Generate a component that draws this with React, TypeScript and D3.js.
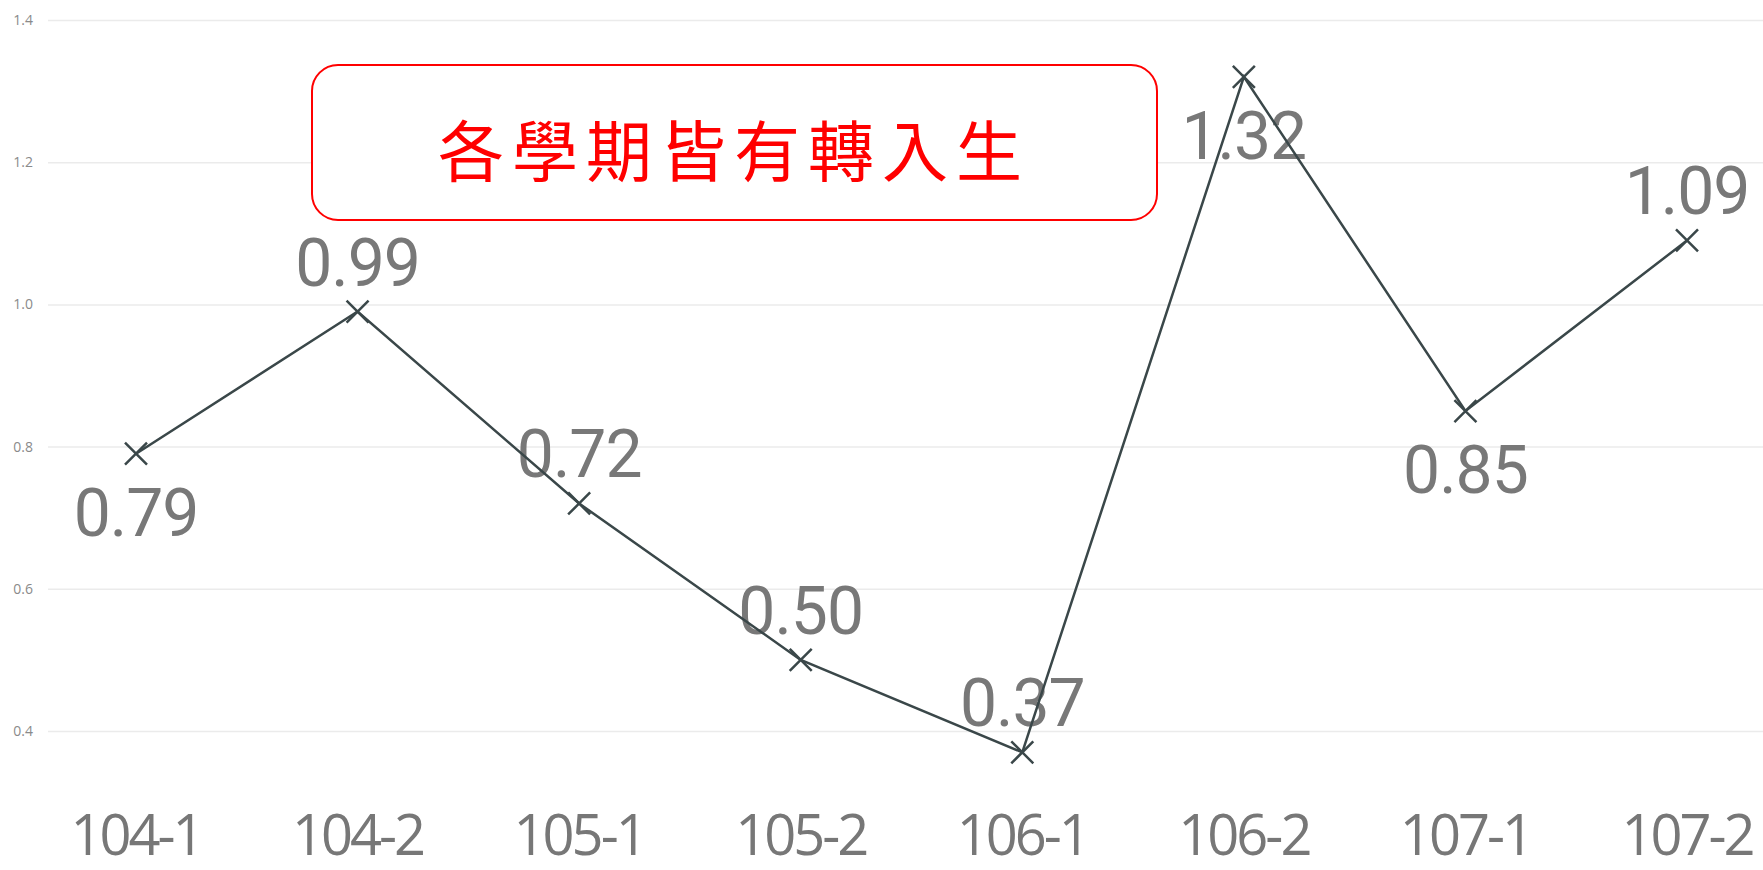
import React, { useEffect, useRef } from 'react';
import { axisLeft, line, scaleLinear, scalePoint, select } from 'd3';

const terms = ['104-1', '104-2', '105-1', '105-2', '106-1', '106-2', '107-1', '107-2'];
const rates = [0.79, 0.99, 0.72, 0.5, 0.37, 1.32, 0.85, 1.09];
const labelSide = ['below', 'above', 'above', 'above', 'above', 'below', 'below', 'above'];
const yTicks = [0.4, 0.6, 0.8, 1.0, 1.2, 1.4];
const note = '各學期皆有轉入生';

const App = () => {
  const chartRef = useRef<SVGSVGElement | null>(null);

  useEffect(() => {
    const svg = select(chartRef.current);
    const width = 1763;
    const height = 870;

    svg.selectAll('*').remove();
    svg.attr('width', width).attr('height', height);

    const x = scalePoint<string>().domain(terms).range([136, 1687]);
    const y = scaleLinear().domain([0.4, 1.4]).range([731, 20]);

    // gridlines + tick labels
    const yAxis = svg
      .append('g')
      .attr('transform', 'translate(48,0)')
      .call(
        axisLeft(y)
          .tickValues(yTicks)
          .tickSize(-(width - 48))
          .tickPadding(15)
          .tickFormat((d) => Number(d).toFixed(1))
      );
    yAxis.select('.domain').remove();
    yAxis.selectAll('line').attr('stroke', '#ebebeb').attr('stroke-width', 1.5);
    yAxis
      .selectAll('text')
      .attr('fill', '#8a8a8a')
      .style('font-family', '"Open Sans", sans-serif')
      .style('font-size', '14px');

    // category labels
    svg
      .append('g')
      .selectAll('text')
      .data(terms)
      .enter()
      .append('text')
      .attr('x', (d) => x(d) ?? 0)
      .attr('y', 855)
      .attr('text-anchor', 'middle')
      .attr('fill', '#777777')
      .style('font-family', '"Open Sans", sans-serif')
      .style('font-weight', 400)
      .style('font-size', '56px')
      .style('letter-spacing', '-3px')
      .text((d) => d);

    // data labels
    svg
      .append('g')
      .selectAll('text')
      .data(rates)
      .enter()
      .append('text')
      .attr('x', (d, i) => x(terms[i]) ?? 0)
      .attr('y', (d, i) => (labelSide[i] === 'above' ? y(d) - 26 : y(d) + 82))
      .attr('text-anchor', 'middle')
      .attr('fill', '#787878')
      .style('font-family', 'Roboto, sans-serif')
      .style('font-weight', 400)
      .style('font-size', '66px')
      .style('letter-spacing', '-1px')
      .text((d) => d.toFixed(2));

    // series line
    const path = line<number>()
      .x((d, i) => x(terms[i]) ?? 0)
      .y((d) => y(d));
    svg
      .append('path')
      .datum(rates)
      .attr('d', path)
      .attr('fill', 'none')
      .attr('stroke', '#3a4749')
      .attr('stroke-width', 2.5);

    // x markers
    const s = 11;
    const marks = svg
      .append('g')
      .selectAll('g')
      .data(rates)
      .enter()
      .append('g')
      .attr('transform', (d, i) => `translate(${x(terms[i])},${y(d)})`);
    marks
      .append('path')
      .attr('d', `M${-s},${-s}L${s},${s}M${-s},${s}L${s},${-s}`)
      .attr('stroke', '#3a4749')
      .attr('stroke-width', 2.5)
      .attr('fill', 'none');

    // annotation box
    svg
      .append('rect')
      .attr('x', 312)
      .attr('y', 65)
      .attr('width', 845)
      .attr('height', 155)
      .attr('rx', 26)
      .attr('fill', '#ffffff')
      .attr('stroke', '#ff0000')
      .attr('stroke-width', 2);
    svg
      .append('text')
      .attr('x', 734)
      .attr('y', 176)
      .attr('text-anchor', 'middle')
      .attr('fill', '#ff0000')
      .style('font-family', '"Noto Sans CJK TC", sans-serif')
      .style('font-size', '66px')
      .style('letter-spacing', '8px')
      .text(note);
  }, []);

  return (
    <svg
      ref={chartRef}
      style={{ position: 'absolute', top: 0, left: 0, display: 'block', background: '#fff' }}
    />
  );
};

export default App;
